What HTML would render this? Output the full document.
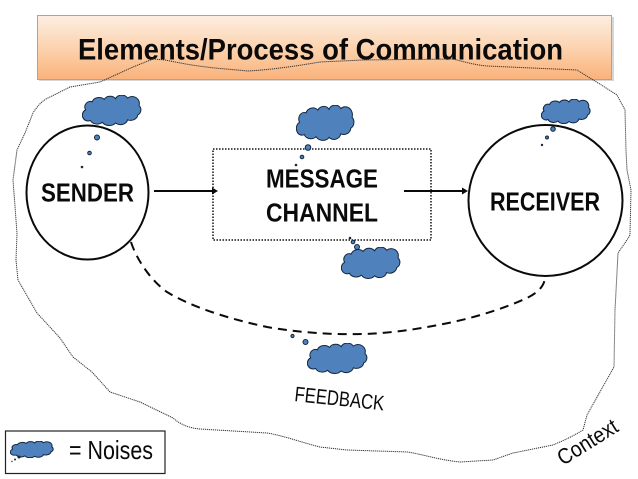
<!DOCTYPE html>
<html>
<head>
<meta charset="utf-8">
<style>
html,body{margin:0;padding:0;background:#fff;width:638px;height:479px;overflow:hidden}
svg{display:block}
text{font-family:"Liberation Sans",sans-serif;fill:#0a0a0a}
</style>
</head>
<body>
<svg width="638" height="479" viewBox="0 0 638 479" xmlns="http://www.w3.org/2000/svg">
<defs>
<linearGradient id="g" x1="0" y1="0" x2="0" y2="1">
<stop offset="0" stop-color="#fdeee2"/>
<stop offset="0.5" stop-color="#fcd3b0"/>
<stop offset="1" stop-color="#fab27a"/>
</linearGradient>
<symbol id="cloud" viewBox="0 0 100 50" preserveAspectRatio="none">
<path vector-effect="non-scaling-stroke" d="M6,24 A9,9 0 0 1 17,11 A12,10 0 0 1 37,7 A11,9 0 0 1 56,6 A11,9 0 0 1 76,5 A12,11 0 0 1 95,17 A9,9 0 0 1 93,32 A12,10 0 0 1 76,40 A12,10 0 0 1 56,45 A13,10 0 0 1 34,44 A12,9 0 0 1 14,41 A9,9 0 0 1 6,24 Z" fill="#4f81bd" stroke="#14263c" stroke-width="1"/>
</symbol>
</defs>

<rect x="39" y="17" width="575" height="64" fill="#bbb" opacity="0.6"/>
<rect x="37.500" y="15.500" width="574" height="64" fill="url(#g)" stroke="#d8995f" stroke-width="1"/>
<text x="78" y="59.500" font-size="30" font-weight="bold" textLength="485" lengthAdjust="spacingAndGlyphs">Elements/Process of Communication</text>

<path d="M153,59 L165,60 C180,63 195,66 215,68 L248,71 C265,70 285,68 320,62 L363,60 L453,59 C465,62 475,65 487,66 L577,70 L603,86 L617,95 L625,110 L626,150 L627,170 L631,190 L630,235 L627,240 L618,253 L615,310 L614,367 L587,415 L583,430 C570,438 560,442 553,445 L513,453 L493,460 L460,462 C440,460 425,455 408,452 L347,450 L320,447 C300,442 285,436 267,433 L200,429 C188,428 180,424 173,418 L140,402 L110,392 L92,372 L73,357 L60,338 L37,313 L18,280 L16,260 L17,233 L13,180 L17,150 L25,133 L33,113 C38,105 43,100 50,97 L70,87 L100,82 L133,67 Z" fill="none" stroke="#333" stroke-width="1" stroke-linejoin="round" stroke-dasharray="1.200 0.800"/>

<ellipse cx="87.500" cy="192.500" rx="61" ry="67" fill="#fff" stroke="#0a0a0a" stroke-width="2"/>
<ellipse cx="545.500" cy="200.500" rx="77" ry="75.500" fill="#fff" stroke="#0a0a0a" stroke-width="2"/>

<rect x="213" y="149" width="218" height="91" fill="none" stroke="#111" stroke-width="1.500" stroke-dasharray="1.500 1.500"/>

<path d="M154,191 H214" stroke="#0a0a0a" stroke-width="2" fill="none"/>
<path d="M212,187.500 L218,191 L212,194.500 Z" fill="#0a0a0a"/>
<path d="M404,191 H464" stroke="#0a0a0a" stroke-width="2" fill="none"/>
<path d="M462,187.500 L468,191 L462,194.500 Z" fill="#0a0a0a"/>

<path d="M131,242 C136,258 150,280 167,292 C190,306 225,318 267,327 C295,332 330,335 363,334 C395,333 425,328 453,322 C480,316 505,308 527,298 C537,293 544,287 545,278" fill="none" stroke="#0a0a0a" stroke-width="2" stroke-dasharray="9 6"/>

<text x="41" y="201.500" font-size="26" font-weight="bold" textLength="93" lengthAdjust="spacingAndGlyphs">SENDER</text>
<text x="266" y="187.500" font-size="26" font-weight="bold" textLength="112" lengthAdjust="spacingAndGlyphs">MESSAGE</text>
<text x="266" y="221.500" font-size="26" font-weight="bold" textLength="112" lengthAdjust="spacingAndGlyphs">CHANNEL</text>
<text x="490" y="210.500" font-size="26" font-weight="bold" textLength="110" lengthAdjust="spacingAndGlyphs">RECEIVER</text>
<text transform="translate(294,401) rotate(6)" font-size="21" textLength="90" lengthAdjust="spacingAndGlyphs">FEEDBACK</text>
<text transform="translate(563,466) rotate(-32)" font-size="22" textLength="67" lengthAdjust="spacingAndGlyphs">Context</text>

<use href="#cloud" x="82" y="95" width="60" height="31"/>
<use href="#cloud" x="296" y="105" width="59" height="36"/>
<use href="#cloud" x="541" y="99" width="50" height="25"/>
<use href="#cloud" x="341" y="247" width="60" height="32"/>
<use href="#cloud" x="307" y="343" width="61" height="31"/>

<g fill="#4f81bd" stroke="#14263c" stroke-width="1">
<circle cx="97" cy="137.500" r="2.500"/>
<circle cx="89.500" cy="153" r="1.800"/>
<circle cx="82" cy="167" r="0.800"/>
<circle cx="308" cy="147.500" r="2.800"/>
<circle cx="302" cy="157" r="1.800"/>
<circle cx="296" cy="165" r="0.800"/>
<circle cx="553" cy="129" r="2.300"/>
<circle cx="547" cy="137.500" r="1.500"/>
<circle cx="542" cy="145" r="0.700"/>
<circle cx="350" cy="238" r="0.800"/>
<circle cx="353" cy="242" r="1.800"/>
<circle cx="357" cy="247" r="2.500"/>
<circle cx="292.500" cy="336" r="1.600"/>
<circle cx="305.500" cy="342" r="2.500"/>
</g>

<rect x="5.500" y="431" width="159.500" height="42.500" fill="#fff" stroke="#222" stroke-width="1.200"/>
<use href="#cloud" x="10" y="441" width="44" height="17"/>
<g fill="#14263c">
<circle cx="19" cy="457" r="1.500"/>
<circle cx="15" cy="459.500" r="1"/>
<circle cx="12" cy="461.500" r="0.700"/>
</g>
<text x="69" y="459" font-size="26" textLength="84" lengthAdjust="spacingAndGlyphs">= Noises</text>
</svg>
</body>
</html>
